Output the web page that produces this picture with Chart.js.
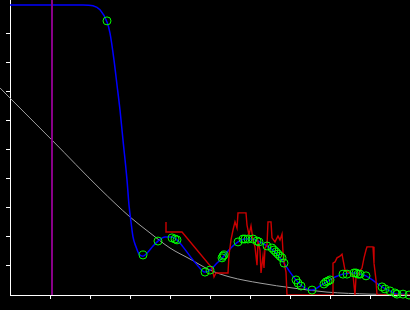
<!DOCTYPE html>
<html>
<head>
<meta charset="utf-8">
<script src="https://cdn.jsdelivr.net/npm/chart.js@4/dist/chart.umd.min.js"></script>
<style>
  body { margin: 0; background: #000; }
  canvas { display: block; }
</style>
</head>
<body>
<canvas id="fitChart" width="410" height="310"></canvas>
<script>
// tick positions (no labels in the picture)
const xTicks = [1, 2, 3, 4, 5, 6, 7, 8, 9];
const yTicks = [1, 2, 3, 4, 5, 6, 7, 8, 9];

// vertical marker
const markerX = 1.05;

// smooth fitted model (blue)
const modelX = [0, 1.825, 2.075, 2.25, 2.425, 2.5, 2.6, 2.675, 2.75, 2.825, 2.925, 2.975, 3.025, 3.075, 3.15, 3.225, 3.325, 3.45, 3.575, 3.7, 3.875, 4.05, 4.175, 4.325, 4.5, 4.7, 4.875, 5.0, 5.175, 5.325, 5.5, 5.7, 5.875, 6.05, 6.2, 6.425, 6.625, 6.85, 7.0, 7.15, 7.3, 7.55, 7.75, 7.95, 8.125, 8.325, 8.6, 8.75, 8.9, 9.1, 9.3, 9.5, 9.675, 9.825, 9.975];
const modelY = [10.0, 10.0, 9.97, 9.83, 9.41, 9.03, 8.10, 7.24, 6.38, 5.34, 3.97, 3.10, 2.52, 2.0, 1.66, 1.41, 1.34, 1.48, 1.69, 1.86, 2.0, 2.0, 1.90, 1.66, 1.34, 1.0, 0.79, 0.86, 1.10, 1.31, 1.59, 1.83, 1.93, 1.93, 1.86, 1.69, 1.48, 1.10, 0.79, 0.52, 0.31, 0.17, 0.31, 0.48, 0.62, 0.72, 0.76, 0.72, 0.66, 0.48, 0.28, 0.14, 0.03, 0.03, 0];

// baseline decay (gray)
const baseX = [-0.25, 0, 1.05, 2.25, 3.0, 3.5, 4.0, 4.5, 5.0, 5.5, 6.25, 7.075, 7.925, 9.0, 10];
const baseY = [7.14, 6.79, 5.34, 3.66, 2.69, 2.14, 1.62, 1.24, 0.86, 0.62, 0.41, 0.24, 0.10, 0.03, 0];

// raw signal (red)
const rawX = [3.9, 3.9, 4.3, 5.05, 5.1, 5.15, 5.45, 5.475, 5.525, 5.575, 5.625, 5.675, 5.7, 5.9, 5.925, 5.975, 6.025, 6.075, 6.125, 6.175, 6.2, 6.25, 6.275, 6.325, 6.35, 6.375, 6.425, 6.45, 6.525, 6.55, 6.625, 6.7, 6.75, 6.8, 6.825, 6.85, 6.9, 6.925, 8.075, 8.075, 8.125, 8.175, 8.25, 8.3, 8.325, 8.375, 8.575, 8.625, 8.65, 8.8, 8.85, 8.9, 8.925, 9.075, 9.1, 9.15, 9.175, 10];
const rawY = [2.52, 2.17, 2.17, 0.93, 0.62, 0.76, 0.76, 1.38, 1.90, 2.24, 2.52, 2.31, 2.83, 2.83, 2.41, 2.07, 2.38, 1.90, 1.66, 1.03, 1.83, 1.55, 0.76, 1.34, 0.93, 1.62, 1.72, 2.52, 2.52, 1.97, 1.83, 2.03, 1.90, 2.10, 1.48, 1.14, 0.79, 0, 0, 1.10, 1.14, 1.28, 1.34, 1.41, 1.41, 0.86, 0.69, 0, 0.62, 0.93, 1.28, 1.55, 1.66, 1.66, 1.10, 0.52, 0, 0];

// observations (green circles)
const obsX = [2.425, 3.325, 3.7, 4.05, 4.125, 4.175, 4.875, 5.0, 5.3, 5.325, 5.35, 5.7, 5.825, 5.875, 5.95, 6.075, 6.175, 6.225, 6.425, 6.55, 6.6, 6.65, 6.7, 6.75, 6.8, 6.85, 7.15, 7.2, 7.275, 7.55, 7.85, 7.9, 7.95, 8.0, 8.325, 8.425, 8.6, 8.65, 8.7, 8.75, 8.9, 9.3, 9.375, 9.5, 9.625, 9.675, 9.825, 9.975];
const obsY = [9.45, 1.38, 1.86, 1.97, 1.93, 1.90, 0.79, 0.86, 1.28, 1.34, 1.38, 1.83, 1.93, 1.93, 1.93, 1.93, 1.86, 1.83, 1.69, 1.62, 1.55, 1.48, 1.41, 1.34, 1.28, 1.10, 0.52, 0.41, 0.31, 0.17, 0.38, 0.45, 0.48, 0.52, 0.72, 0.72, 0.76, 0.76, 0.72, 0.72, 0.66, 0.28, 0.21, 0.14, 0.07, 0.03, 0.03, 0];

const pts = (xs, ys) => xs.map((x, i) => ({ x: x, y: ys[i] }));

const axis = (ticks, fitFn) => ({
  type: "linear",
  afterBuildTicks: s => { s.ticks = ticks.map(v => ({ value: v })); },
  afterFit: fitFn,
  ticks: { display: false },
  grid: { drawOnChartArea: false, color: "#ffffff", lineWidth: 1, tickLength: 4 },
  border: { display: true, color: "#ffffff", width: 1 }
});

const xAxis = axis(xTicks, s => { s.height = 15; });
xAxis.min = 0;
xAxis.max = 10;
const yAxis = axis(yTicks, s => { s.width = 10; });
yAxis.min = 0;
yAxis.max = 10.17;

new Chart(document.getElementById("fitChart"), {
  type: "scatter",
  data: {
    datasets: [
      {
        label: "obs",
        data: pts(obsX, obsY),
        pointRadius: 4,
        pointBorderWidth: 1,
        pointBorderColor: "#00ff00",
        pointBackgroundColor: "rgba(0,0,0,0)",
        clip: false
      },
      {
        label: "marker",
        data: [{ x: markerX, y: 0 }, { x: markerX, y: 10.17 }],
        showLine: true,
        borderColor: "#880088",
        borderWidth: 2,
        pointRadius: 0
      },
      {
        label: "raw",
        data: pts(rawX, rawY),
        showLine: true,
        borderColor: "#cc0000",
        borderWidth: 1.4,
        pointRadius: 0,
        tension: 0
      },
      {
        label: "model",
        data: pts(modelX, modelY),
        showLine: true,
        borderColor: "#0000ff",
        borderWidth: 1.5,
        pointRadius: 0,
        cubicInterpolationMode: "monotone"
      },
      {
        label: "base",
        data: pts(baseX, baseY),
        showLine: true,
        borderColor: "#a0a0a0",
        borderWidth: 1,
        pointRadius: 0,
        cubicInterpolationMode: "monotone",
        clip: false
      }
    ]
  },
  options: {
    responsive: false,
    animation: false,
    layout: { padding: 0, autoPadding: false },
    plugins: { legend: { display: false }, tooltip: { enabled: false } },
    scales: { x: xAxis, y: yAxis }
  }
});
</script>
</body>
</html>
